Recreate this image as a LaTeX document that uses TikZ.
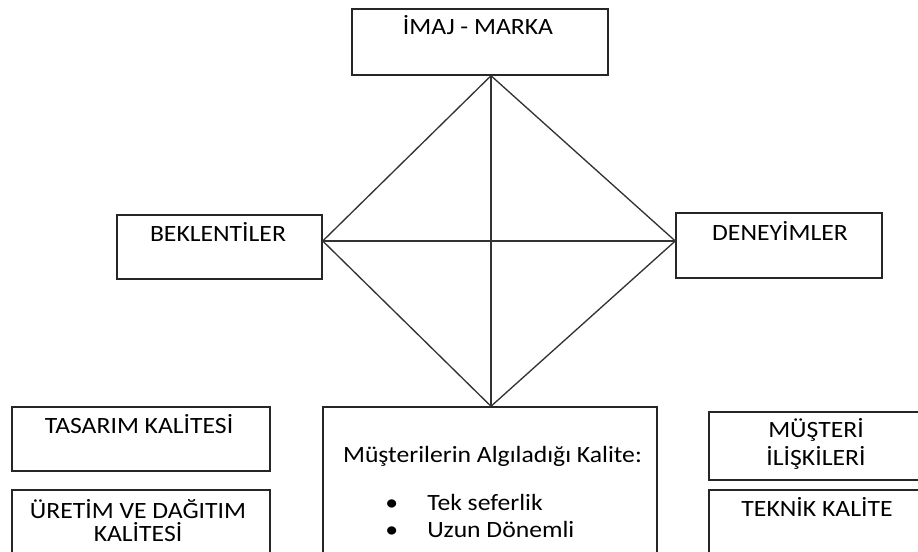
\documentclass[tikz,border=0pt]{standalone}
\usepackage{fontspec}
\setmainfont{Carlito}[FakeStretch=1.1]
\begin{document}
\begin{tikzpicture}[x=0.75pt,y=-0.75pt,
    kutu/.style={draw=black!85,line width=1.1pt,inner sep=0pt},
    yazi/.style={font=\fontsize{17.5}{17.5}\selectfont,inner sep=0pt,align=center,anchor=base},
    cizgi/.style={draw=black!80,line width=1pt}]
    \useasboundingbox (0,0) rectangle (918,552);
    \clip (0,0) rectangle (918,552);
    % kutular
    \node[kutu,minimum width=192pt,minimum height=49.5pt] (imaj) at (480,42) {};
    \node[kutu,minimum width=153.75pt,minimum height=48pt] (bek) at (219.5,247) {};
    \node[kutu,minimum width=154.5pt,minimum height=48.75pt] (den) at (779,245.5) {};
    \node[kutu,minimum width=193.5pt,minimum height=48pt] (tas) at (141,439) {};
    \node[kutu,minimum width=193.5pt,minimum height=60pt] (ure) at (141,530) {};
    \node[kutu,minimum width=250.5pt,minimum height=129.75pt] (alg) at (490,493.5) {};
    \node[kutu,minimum width=165.75pt,minimum height=51pt] (mus) at (819.5,446) {};
    \node[kutu,minimum width=165.75pt,minimum height=60pt] (tek) at (819.5,530) {};
    % yazilar (cok satirlilarda base son satirda)
    \node[yazi] (timaj) at (478,35) {İMAJ - MARKA};
    \node[yazi] (tbek) at (218,241.7) {BEKLENTİLER};
    \node[yazi] (tden) at (780,240.7) {DENEYİMLER};
    \node[yazi] (ttas) at (139,433.3) {TASARIM KALİTESİ};
    \node[yazi] (ture) at (138,541.7) {ÜRETİM VE DAĞITIM\\KALİTESİ};
    \node[yazi,font=\fontsize{17.5}{21}\selectfont] (tmus) at (816,465) {MÜŞTERİ\\İLİŞKİLERİ};
    \node[yazi] (ttek) at (817,516.7) {TEKNİK KALİTE};
    \node[yazi] (talg) at (492.5,462.7) {Müşterilerin Algıladığı Kalite:};
    \node[yazi,align=left,anchor=base west,font=\fontsize{17.5}{20.25}\selectfont] (liste) at (385,537.7)
        {\makebox[31.5pt][l]{\textbullet}Tek seferlik\\\makebox[31.5pt][l]{\textbullet}Uzun Dönemli};
    % baklava
    \coordinate (ust) at (491,0 |- imaj.south);
    \coordinate (alt) at (491,0 |- alg.north);
    \coordinate (sol) at (bek.east |- 0,241);
    \coordinate (sag) at (den.west |- 0,241);
    \draw[cizgi] (ust) -- (sol) -- (alt) -- (sag) -- cycle;
    \draw[cizgi] (ust) -- (alt) (sol) -- (sag);
\end{tikzpicture}
\end{document}
